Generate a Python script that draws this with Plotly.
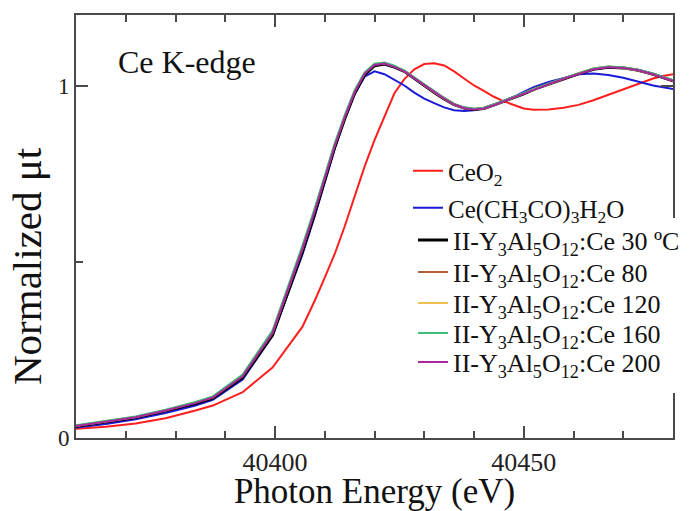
import plotly.graph_objects as go

# ---------------- data ----------------
energy = [40360, 40366, 40372, 40378, 40384, 40387.5, 40393.5, 40399.5, 40405.5,
          40408, 40410, 40412, 40414, 40416, 40418, 40420, 40422, 40424, 40426,
          40428, 40430, 40432, 40434, 40436, 40438, 40440, 40442, 40444, 40446,
          40448, 40450, 40452, 40455, 40458, 40461, 40464, 40467, 40470, 40473,
          40476, 40478, 40480]

ceo2 = [0.026, 0.032, 0.041, 0.056, 0.078, 0.092, 0.130, 0.200, 0.315,
        0.390, 0.455, 0.522, 0.600, 0.685, 0.770, 0.845, 0.910, 0.978, 1.018,
        1.046, 1.061, 1.063, 1.057, 1.040, 1.020, 1.000, 0.985, 0.968, 0.955,
        0.944, 0.935, 0.931, 0.932, 0.937, 0.945, 0.958, 0.973, 0.990, 1.004,
        1.020, 1.027, 1.032]

ce_acetate = [0.030, 0.040, 0.053, 0.071, 0.092, 0.108, 0.166, 0.290, 0.520,
              0.630, 0.725, 0.820, 0.905, 0.975, 1.025, 1.040, 1.032, 1.016, 1.000,
              0.980, 0.963, 0.950, 0.938, 0.930, 0.928, 0.930, 0.936, 0.945, 0.956,
              0.968, 0.982, 0.995, 1.010, 1.022, 1.032, 1.034, 1.030, 1.022, 1.010,
              1.000, 0.995, 0.990]

yag_30 = [0.033, 0.045, 0.058, 0.077, 0.098, 0.113, 0.172, 0.292, 0.528,
          0.638, 0.732, 0.825, 0.905, 0.978, 1.030, 1.056, 1.061, 1.052, 1.040,
          1.020, 0.999, 0.980, 0.962, 0.946, 0.936, 0.932, 0.935, 0.944, 0.955,
          0.966, 0.976, 0.989, 1.004, 1.019, 1.033, 1.046, 1.052, 1.050, 1.043,
          1.032, 1.022, 1.013]

yag_80 = [0.034, 0.046, 0.059, 0.078, 0.100, 0.115, 0.176, 0.298, 0.535,
          0.645, 0.738, 0.830, 0.910, 0.982, 1.034, 1.060, 1.064, 1.055, 1.041,
          1.022, 1.001, 0.981, 0.964, 0.947, 0.937, 0.933, 0.936, 0.945, 0.956,
          0.967, 0.977, 0.990, 1.005, 1.020, 1.034, 1.047, 1.053, 1.051, 1.044,
          1.033, 1.023, 1.014]

yag_120 = [0.035, 0.047, 0.060, 0.079, 0.101, 0.117, 0.179, 0.303, 0.542,
           0.650, 0.742, 0.834, 0.913, 0.985, 1.036, 1.061, 1.063, 1.054, 1.041,
           1.021, 1.000, 0.982, 0.963, 0.946, 0.936, 0.933, 0.935, 0.944, 0.955,
           0.966, 0.977, 0.990, 1.004, 1.020, 1.035, 1.048, 1.054, 1.050, 1.043,
           1.032, 1.023, 1.014]

yag_160 = [0.036, 0.048, 0.061, 0.080, 0.102, 0.118, 0.180, 0.305, 0.545,
           0.652, 0.744, 0.836, 0.915, 0.986, 1.037, 1.062, 1.065, 1.056, 1.042,
           1.023, 1.002, 0.983, 0.965, 0.948, 0.938, 0.934, 0.937, 0.946, 0.957,
           0.968, 0.978, 0.991, 1.006, 1.021, 1.035, 1.048, 1.054, 1.052, 1.045,
           1.034, 1.024, 1.015]

yag_200 = [0.034, 0.046, 0.059, 0.078, 0.099, 0.115, 0.175, 0.298, 0.536,
           0.644, 0.737, 0.829, 0.909, 0.981, 1.033, 1.058, 1.062, 1.053, 1.040,
           1.021, 1.000, 0.981, 0.963, 0.946, 0.936, 0.932, 0.935, 0.944, 0.955,
           0.966, 0.976, 0.989, 1.004, 1.019, 1.033, 1.046, 1.052, 1.050, 1.043,
           1.032, 1.022, 1.013]

series_names = [
    "CeO<sub>2</sub>",
    "Ce(CH<sub>3</sub>CO)<sub>3</sub>H<sub>2</sub>O",
    "II-Y<sub>3</sub>Al<sub>5</sub>O<sub>12</sub>:Ce 30 ºC",
    "II-Y<sub>3</sub>Al<sub>5</sub>O<sub>12</sub>:Ce 80",
    "II-Y<sub>3</sub>Al<sub>5</sub>O<sub>12</sub>:Ce 120",
    "II-Y<sub>3</sub>Al<sub>5</sub>O<sub>12</sub>:Ce 160",
    "II-Y<sub>3</sub>Al<sub>5</sub>O<sub>12</sub>:Ce 200",
]
series_values = [ceo2, ce_acetate, yag_30, yag_80, yag_120, yag_160, yag_200]

x_ticks = [40400, 40450]
y_ticks = [0, 1]

# ---------------- styling ----------------
FONT = "'Liberation Serif', 'Times New Roman', Times, serif"
AX = "#4a4a4a"
colors = ["#ff1e1e", "#1a1ad8", "#000000", "#b85a3a", "#f0c052", "#3cc07a", "#a8289c"]
widths = [2, 2, 3, 2, 2, 2, 2]
legend_ids = ["legend", "legend2", "legend3", "legend4", "legend5", "legend6", "legend7"]

# the page body adds an 8 px margin, so the figure is 8 px smaller and
# positioned so that its plot area lands on screen at x 76..673, y 15..438
OFF = 8
W, H = 692 - OFF, 511 - OFF
SL, SR, ST, SB = 76, 673, 15, 438          # plot area in screen pixels
L, T = SL - OFF, ST - OFF
R, B = W - (SR - OFF), H - (SB - OFF)
PW, PH = SR - SL, SB - ST


def px(xs):
    return (xs - SL) / PW


def py(ys):
    return (SB - ys) / PH


fig = go.Figure()
for name, vals, c, w, lg in zip(series_names, series_values, colors, widths, legend_ids):
    fig.add_trace(go.Scatter(x=energy, y=vals, mode="lines", name=name,
                             line=dict(color=c, width=w), legend=lg))

# legend positions (screen pixel centres of each entry)
leg_y = [171, 208, 240, 272, 303, 333, 362]
leg_x = [408, 408, 413, 413, 413, 413, 413]
leg_size = [25, 25, 26, 26, 26, 26, 26]
layout_legends = {}
for lg, yy, xx, fs in zip(legend_ids, leg_y, leg_x, leg_size):
    layout_legends[lg] = dict(x=px(xx), y=py(yy), xanchor="left", yanchor="middle",
                              bgcolor="rgba(0,0,0,0)", borderwidth=0,
                              font=dict(family=FONT, size=fs, color="#111"))

fig.update_layout(
    width=W, height=H,
    margin=dict(l=L, r=R, t=T, b=B, autoexpand=False),
    paper_bgcolor="white", plot_bgcolor="white",
    font=dict(family=FONT, color="#111"),
    showlegend=True,
    **layout_legends,
)

fig.update_xaxes(
    range=[40360, 40480], tickvals=x_ticks, ticktext=[str(v) for v in x_ticks],
    ticks="inside", ticklen=12, tickwidth=2, tickcolor=AX,
    showline=True, linecolor=AX, linewidth=2, mirror="allticks",
    showgrid=False, zeroline=False,
    minor=dict(dtick=10, tick0=40360, ticks="inside", ticklen=7, tickwidth=2, tickcolor=AX, showgrid=False),
    tickfont=dict(family=FONT, size=26, color="#222"),
    title=dict(text="Photon Energy (eV)", font=dict(family=FONT, size=35, color="#111"), standoff=0),
)
fig.update_yaxes(
    range=[0, 1.2], tickvals=y_ticks, ticktext=[str(v) for v in y_ticks],
    ticks="inside", ticklen=12, tickwidth=2, tickcolor=AX,
    showline=True, linecolor=AX, linewidth=2, mirror="allticks",
    showgrid=False, zeroline=False,
    minor=dict(dtick=0.5, tick0=0, ticks="inside", ticklen=7, tickwidth=2, tickcolor=AX, showgrid=False),
    tickfont=dict(family=FONT, size=23, color="#222"),
)

# white patch behind the lower legend block (hides the right frame there)
fig.add_shape(type="rect", xref="paper", yref="paper", layer="above",
              x0=px(660), x1=px(700), y0=py(393), y1=py(218),
              fillcolor="white", line=dict(width=0))

fig.add_annotation(text="Ce K-edge", xref="paper", yref="paper",
                   x=px(116), y=py(62), xanchor="left", yanchor="middle",
                   showarrow=False, font=dict(family=FONT, size=32, color="#111"))
fig.add_annotation(text="Normalized μt", xref="paper", yref="paper",
                   x=px(27), y=py(266), xanchor="center", yanchor="middle",
                   textangle=-90, showarrow=False,
                   font=dict(family=FONT, size=41, color="#111"))

fig.write_html("out.html")
